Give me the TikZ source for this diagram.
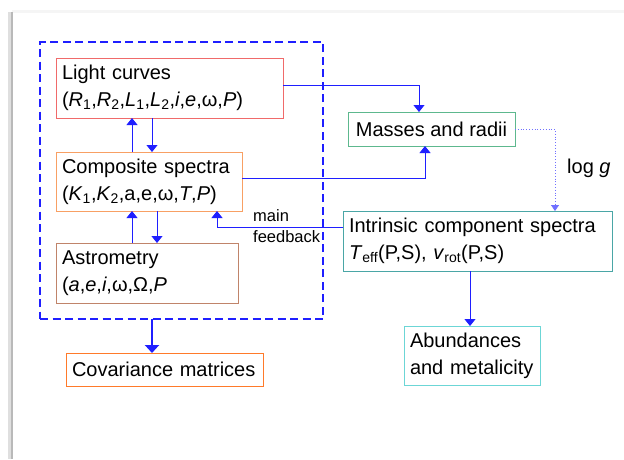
\documentclass[tikz,border=0pt]{standalone}
\usepackage{fontspec}
\setmainfont{Liberation Sans}
\usetikzlibrary{arrows.meta}
\definecolor{cblue}{HTML}{1F1FFF}
\definecolor{cdot}{HTML}{7070FF}
\definecolor{clight}{HTML}{F06A6A}
\definecolor{ccomp}{HTML}{F8A064}
\definecolor{castro}{HTML}{C0846A}
\definecolor{ccov}{HTML}{FF7A2A}
\definecolor{cmass}{HTML}{5DB88E}
\definecolor{cintr}{HTML}{4AA6A6}
\definecolor{cabund}{HTML}{6CD6D6}
\newcommand{\sbs}[1]{\textsubscript{#1}}
\begin{document}
\begin{tikzpicture}[x=1pt,y=-1pt,
  box/.style={draw=#1, line width=1pt, fill=white, anchor=north west,
    inner xsep=6pt, inner ysep=0pt, outer sep=0pt, align=left,
    font=\fontsize{20}{27}\selectfont},
  conn/.style={cblue, line width=0.9pt, -{Triangle[length=7pt,width=11pt]}},
  thickconn/.style={cblue, line width=2pt, -{Triangle[length=8pt,width=14pt]}},
  dotconn/.style={cdot, line width=0.8pt, dotted, -{Triangle[length=6pt,width=8pt]}},
  lbl/.style={inner sep=0pt, anchor=base west, font=\fontsize{16.5}{21}\selectfont}]
\useasboundingbox (0,0) rectangle (624,459);
\fill[white] (0,0) rectangle (624,459);
% page edges
\fill[gray!8] (12,10) rectangle (624,13);
\fill[gray!25] (8,12) rectangle (12,459);
\draw[gray!55, line width=1.5pt] (12,12) -- (12,459);
% group frame
\node[draw=cblue, line width=2pt, dash pattern=on 8pt off 4.5pt, anchor=north west,
  minimum width=283pt, minimum height=277pt, inner sep=0pt, outer sep=0pt] (grp) at (40,42) {};
% boxes
\node[box=clight, text width=215pt, minimum width=227pt, minimum height=60pt] (light) at (56,58)
  {Light curves\\(\textit{R}\sbs{1},\textit{R}\sbs{2},\textit{L}\sbs{1},\textit{L}\sbs{2},\textit{i},\textit{e},ω,\textit{P})};
\node[box=ccomp, text width=174pt, minimum width=186pt, minimum height=59pt] (comp) at (56,152)
  {Composite spectra\\(\textit{K}\sbs{1},\textit{K}\sbs{2},a,e,ω,\textit{T},\textit{P})};
\node[box=castro, text width=170pt, minimum width=182pt, minimum height=60pt] (astro) at (56,243)
  {Astrometry\\(\textit{a},\textit{e},\textit{i},ω,Ω,\textit{P}};
\node[box=ccov, text width=185pt, minimum width=197pt, minimum height=33pt] (cov) at (66,353)
  {Covariance matrices};
\node[box=cmass, inner xsep=2pt, minimum width=167pt, minimum height=34pt] (mass) at (348,112)
  {Masses and radii};
\node[box=cintr, text width=257pt, minimum width=269pt, minimum height=60pt] (intr) at (343,211)
  {Intrinsic component spectra\\\textit{T}\sbs{eff}(P,S), \textit{v}\sbs{rot}(P,S)};
\node[box=cabund, text width=124pt, minimum width=136pt, minimum height=59pt] (abund) at (404,326)
  {Abundances\\and metalicity};
% labels
\node[lbl] (mainlbl) at (253,221) {main};
\node[lbl] (fblbl) at (253,242) {feedback};
\node[inner sep=0pt, anchor=base west, font=\fontsize{20}{24}\selectfont] (logg) at (567,173) {log \textit{g}};
% connectors
\draw[conn] (light.south -| 152,0) -- (comp.north -| 152,0);
\draw[conn] (comp.north -| 132,0) -- (light.south -| 132,0);
\draw[conn] (comp.south -| 157,0) -- (astro.north -| 157,0);
\draw[conn] (astro.north -| 132,0) -- (comp.south -| 132,0);
\draw[conn] (light.east |- 0,85) -| (mass.north -| 419,0);
\draw[conn] (comp.east |- 0,178) -| (mass.south -| 425,0);
\draw[dotconn] (mass.east |- 0,129) -| (intr.north -| 555,0);
\draw[conn] (intr.west |- 0,227) -| (comp.south -| 217,0);
\draw[conn] (intr.south -| 470,0) -- (abund.north -| 470,0);
\draw[thickconn] (grp.south -| 152,0) -- (cov.north -| 152,0);
\end{tikzpicture}
\end{document}
